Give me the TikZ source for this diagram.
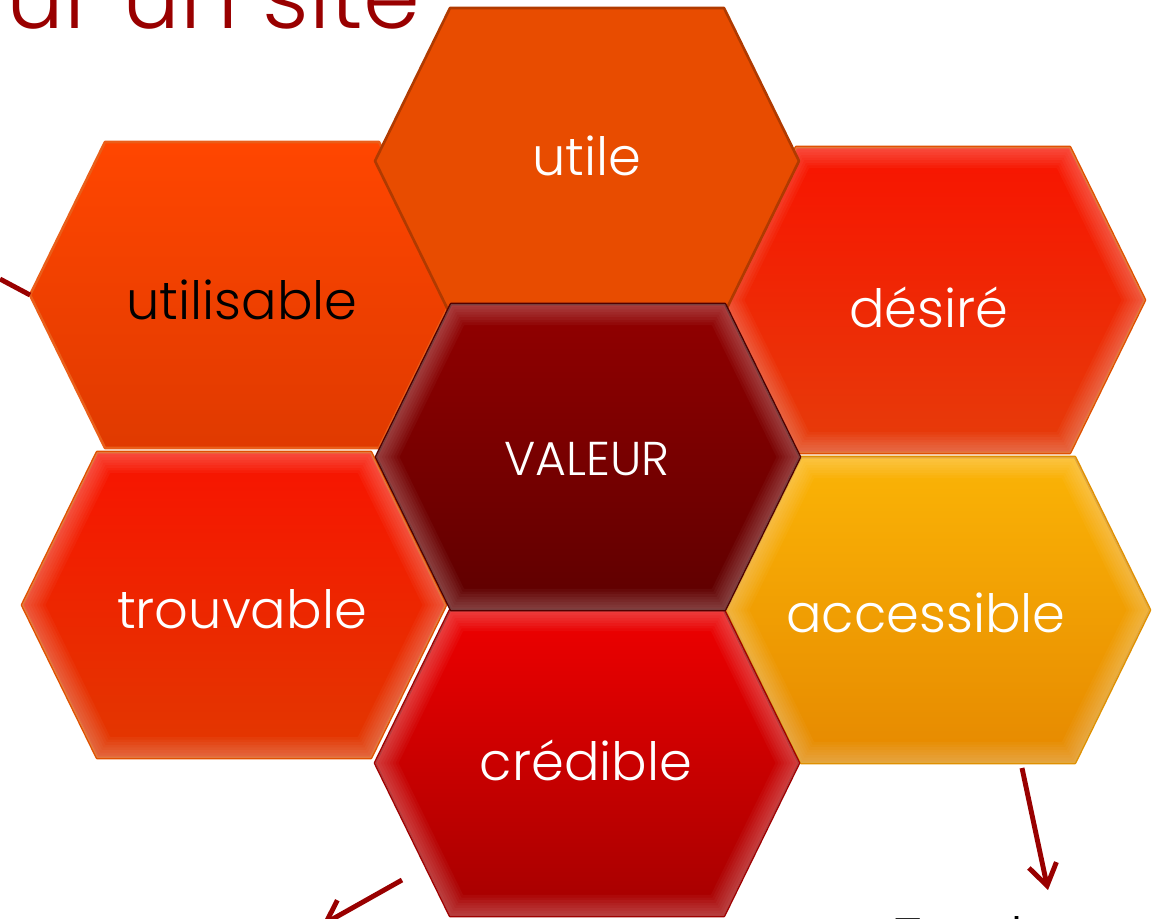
\documentclass[tikz,border=0pt]{standalone}
\usepackage{fontspec}
\setmainfont{Poppins}[UprightFont=* Light]
\usepackage{tikz}
\usetikzlibrary{positioning, arrows.meta}

\definecolor{darkred}{HTML}{990000}
\definecolor{utileorange}{HTML}{E84C00}

\tikzset{
	hexcell/.style={line width=1.5pt},
	word/.style={anchor=base, inner sep=0pt, text=white, font=\fontsize{30}{36}\selectfont},
	pointer/.style={draw=darkred, line width=2.8pt},
	tip/.style={-{Straight Barb[length=12pt, width=16pt]}},
}

% one cell of the honeycomb, centred on a named coordinate
\newcommand{\hexa}[2]{\path[hexcell, #2, shift={(#1)}] (-212,0) -- (-137,-153) -- (137,-153) -- (212,0) -- (137,153) -- (-137,153) -- cycle;}
% soft light rim just inside a cell
\newcommand{\hexrim}[1]{\begin{scope}[shift={(#1)}]
	\clip (-212,0) -- (-137,-153) -- (137,-153) -- (212,0) -- (137,153) -- (-137,153) -- cycle;
	\foreach \w in {3,6,...,24}
		\draw[white, opacity=0.035, line width=\w] (-212,0) -- (-137,-153) -- (137,-153) -- (212,0) -- (137,153) -- (-137,153) -- cycle;
	\end{scope}}

\begin{document}
\begin{tikzpicture}[x=0.02cm, y=-0.02cm, line join=round]
	\useasboundingbox (0,0) rectangle (1160,919);
	\clip (0,0) rectangle (1160,919);

	\node (title) [anchor=base west, inner sep=0pt, text=darkred, font=\fontsize{52}{60}\selectfont] at (6,29) {ur un site};

	\coordinate (c-utilisable) at (242,295);
	\coordinate (c-desire) at (933,300);
	\coordinate (c-accessible) at (938,610);
	\coordinate (c-credible) at (587,763);
	\coordinate (c-trouvable) at (234,605);
	\coordinate (c-utile) at (587,161);
	\coordinate (c-valeur) at (588,457);

	\hexa{c-utilisable}{draw=utileorange!90!white, top color={rgb,255:red,255;green,70;blue,0}, bottom color={rgb,255:red,224;green,58;blue,0}}
	\node (utilisable) [word, text=black] at (242,319) {utilisable};

	\hexa{c-desire}{draw={rgb,255:red,224;green,80;blue,0}, top color={rgb,255:red,248;green,20;blue,0}, middle color={rgb,255:red,250;green,50;blue,0}, bottom color={rgb,255:red,230;green,60;blue,10}}
	\hexrim{c-desire}
	\node (desire) [word] at (929,327) {désiré};

	\hexa{c-accessible}{draw={rgb,255:red,224;green,144;blue,0}, top color={rgb,255:red,251;green,180;blue,6}, middle color={rgb,255:red,250;green,162;blue,0}, bottom color={rgb,255:red,230;green,137;blue,0}}
	\hexrim{c-accessible}
	\node (accessible) [word] at (926,632) {accessible};

	\hexa{c-credible}{draw={rgb,255:red,160;green,0;blue,0}, top color={rgb,255:red,238;green,0;blue,0}, middle color={rgb,255:red,204;green,0;blue,0}, bottom color={rgb,255:red,165;green,0;blue,0}}
	\hexrim{c-credible}
	\node (credible) [word] at (586,780) {crédible};

	\hexa{c-trouvable}{draw={rgb,255:red,224;green,80;blue,0}, top color={rgb,255:red,248;green,20;blue,0}, middle color={rgb,255:red,250;green,48;blue,0}, bottom color={rgb,255:red,226;green,56;blue,0}}
	\hexrim{c-trouvable}
	\node (trouvable) [word] at (242,628) {trouvable};

	\hexa{c-utile}{draw={rgb,255:red,176;green,58;blue,0}, fill=utileorange}
	\node (utile) [word] at (587,175) {utile};

	\hexa{c-valeur}{draw={rgb,255:red,80;green,0;blue,0}, top color={rgb,255:red,146;green,0;blue,0}, middle color={rgb,255:red,122;green,0;blue,0}, bottom color={rgb,255:red,94;green,0;blue,0}}
	\hexrim{c-valeur}
	\node (valeur) [word, font=\fontsize{27}{32}\selectfont] at (587,475) {VALEUR};

	% pointers running off the page
	\coordinate (utilisable-w) at (30,295);
	\coordinate (left-end) at (0,279);
	\coordinate (credible-out) at (402,880);
	\coordinate (credible-end) at (322,925);
	\coordinate (accessible-out) at (1022,768);
	\coordinate (accessible-end) at (1048,890);
	\path
		(left-end) edge [pointer] (utilisable-w)
		(credible-out) edge [pointer, tip] (credible-end)
		(accessible-out) edge [pointer, tip] (accessible-end)
	;
	\node (tendance) [anchor=base west, inner sep=0pt, text=black, font=\fontsize{30}{36}\selectfont] at (894,955) {Tendance};
\end{tikzpicture}
\end{document}
